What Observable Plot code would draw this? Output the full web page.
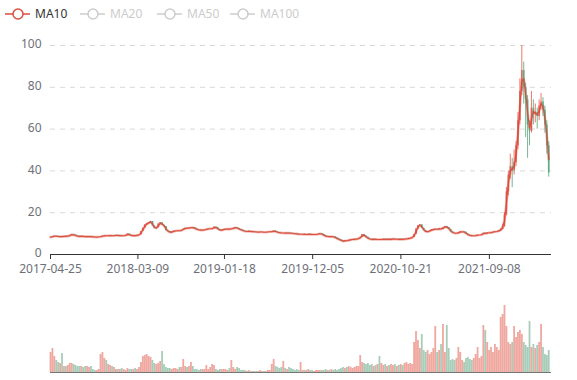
<!DOCTYPE html>
<html><head><meta charset="utf-8">
<script src="https://cdn.jsdelivr.net/npm/d3@7"></script>
<script src="https://cdn.jsdelivr.net/npm/@observablehq/plot@0.6"></script>
<style>
body{margin:0;background:#fff;font-family:"Noto Sans",sans-serif;}
#wrap{position:relative;width:577px;height:380px;overflow:hidden;}
#legend{position:absolute;left:0;top:0;width:577px;height:28px;}
.item{position:absolute;top:7px;height:14px;display:flex;align-items:center;font-size:12px;}
.item span{margin-left:5px;line-height:14px;}
#chart svg{display:block;}
</style></head><body>
<div id="wrap"><div id="chart"></div><div id="legend"></div></div>
<script>
const startDate = "2017-04-25";
const tickLabels = ["2017-04-25","2018-03-09","2019-01-18","2019-12-05","2020-10-21","2021-09-08"];
const seriesNames = ["MA10","MA20","MA50","MA100"];
const closes = [
8.3,8.6,8.8,8.7,8.5,8.6,8.5,8.7,8.6,8.8,
9.2,9.6,9.3,8.9,8.7,8.6,8.7,8.6,8.5,8.6,
8.6,8.5,8.4,8.3,8.3,8.4,8.6,8.8,9.0,8.9,
9.0,9.1,8.9,9.0,9.2,9.0,9.1,8.9,9.0,9.2,
9.8,9.2,9.0,9.1,9.0,9.2,9.4,11.0,12.6,14.2,
14.8,15.3,15.8,13.6,12.4,12.8,14.6,15.2,14.0,13.4,
11.4,11.0,10.4,10.9,11.2,11.3,11.4,11.3,11.6,12.2,
12.6,12.5,12.7,12.9,12.8,12.3,11.9,11.7,11.6,11.7,
11.8,12.1,12.3,12.3,12.4,13.1,12.7,12.0,11.4,11.8,
12.0,12.1,12.2,12.1,12.3,12.6,12.9,12.5,12.0,11.6,
11.3,11.0,11.0,11.1,10.9,11.0,10.8,10.7,10.7,10.8,
10.7,10.6,10.7,10.8,10.9,11.0,11.2,10.8,10.5,10.4,
10.3,10.3,10.2,10.3,10.2,10.1,10.0,9.9,9.8,9.7,
9.7,9.7,9.6,9.6,9.7,9.6,9.5,9.6,9.6,9.8,
10.0,9.6,9.0,8.6,8.6,8.5,8.6,8.4,7.9,7.4,
7.0,6.6,6.2,6.7,6.5,6.9,7.1,7.2,7.3,7.4,
7.7,8.2,9.6,8.8,8.2,7.5,7.3,7.2,7.3,7.2,
7.2,7.1,7.2,7.3,7.2,7.3,7.2,7.3,7.4,7.3,
7.3,7.2,7.3,7.2,7.4,7.5,7.7,7.9,8.2,9.6,
12.2,13.8,14.2,12.5,11.4,10.7,11.0,11.3,11.8,12.0,
12.1,12.0,12.3,12.2,12.8,13.4,12.9,12.0,10.8,10.3,
10.2,10.2,10.5,10.9,10.9,10.6,9.8,9.2,9.1,9.0,
9.0,9.1,9.3,9.3,9.6,10.2,10.0,10.4,10.4,10.5,
10.8,11.0,11.0,11.4,12.0,13.5,19.0,30.0,38.0,42.0,
40.0,44.0,52.0,64.0,78.0,88.0,80.0,74.0,62.0,59.0,
70.0,67.0,68.0,66.0,71.0,73.0,69.0,62.0,52.0,39.0];
const firstOpen = 8.2;
const wickStart = 234;
const wickHigh = [12.5,14.5,20,32,40,48,46,50,54,68,84,100,92,82,76,64,78,74,72,70,74,77,75,71,64,54];
const wickLow  = [11.2,11.8,13,18.5,28,36,32,38,42,50,62,76,72,56,46,52,58,62,63,60,64,69,66,58,48,37];
const volumes = [
20,24,16,12,10,9,19,6,6,7,
9,9,8,7,6,6,6,5,6,6,
5,6,3,2,2,3,18,20,14,12,
8,7,6,5,3,3,3,4,3,2,
4,3,3,3,4,3,5,10,16,17,
18,16,15,12,9,8,9,11,21,8,
5,4,4,3,4,4,3,5,5,13,
6,5,6,10,6,3,3,2,3,3,
3,7,3,5,8,7,3,2,3,3,
3,3,2,4,12,5,3,5,4,2,
2,2,1,2,1,1,1,1,1,2,
1,1,1,2,2,8,13,6,5,4,
5,11,4,3,5,4,3,2,3,2,
10,2,2,2,3,2,2,1,2,2,
2,2,2,3,2,2,3,2,3,2,
3,4,5,4,5,6,5,4,5,6,
6,17,10,9,8,9,7,8,6,7,
8,16,9,7,8,6,7,8,7,8,
6,7,8,7,9,10,8,9,8,30,
41,32,24,38,22,20,22,18,20,24,
46,20,22,28,48,20,47,24,12,13,
12,14,25,20,12,10,14,15,13,12,
14,18,25,14,16,47,42,30,22,25,
20,28,25,22,55,58,67,46,30,28,
30,46,35,40,42,38,30,27,25,51,
25,28,24,27,30,48,25,18,17,22];

const UP = "#e0503f", DOWN = "#4f9c74";
const t0 = new Date(startDate + "T00:00:00Z");
const data = closes.map((c, i) => {
  const open = i === 0 ? firstOpen : closes[i - 1];
  const w = i - wickStart;
  return {
    date: d3.utcDay.offset(t0, i * 7),
    open, close: c,
    high: w >= 0 ? wickHigh[w] : Math.max(open, c),
    low: w >= 0 ? wickLow[w] : Math.min(open, c),
    volume: volumes[i],
    up: c >= open,
    ma: i === 0 ? c : (closes[i - 1] + c) / 2
  };
});
const xDomain = [t0, new Date("2022-04-22T00:00:00Z")];
const ticks = tickLabels.map(s => new Date(s + "T00:00:00Z"));
const fmt = d3.utcFormat("%Y-%m-%d");

const price = Plot.plot({
  width: 577, height: 285,
  marginLeft: 50, marginRight: 26, marginTop: 45, marginBottom: 31,
  style: {fontFamily: "Noto Sans, sans-serif", fontSize: "12px", color: "#6e7079", background: "#fff"},
  x: {type: "utc", domain: xDomain},
  y: {domain: [0, 100]},
  marks: [
    Plot.gridY([20, 40, 60, 80, 100], {stroke: "#d9d9d9", strokeOpacity: 1, strokeDasharray: "5,5"}),
    Plot.axisY([0, 20, 40, 60, 80, 100], {tickSize: 0, tickPadding: 9, dy: -1, fill: "#6e7079", fontSize: 12}),
    Plot.axisX(ticks, {tickSize: 5, tickPadding: 5, tickFormat: fmt, stroke: "#333", fill: "#6e7079", fontSize: 12}),
    Plot.lineY(data, {x: "date", y: "ma", stroke: "#e8806f", strokeWidth: 2.6, strokeOpacity: 0.55}),
    Plot.ruleX(data, {x: "date", y1: "low", y2: "high", stroke: d => d.up ? UP : DOWN, strokeWidth: 0.9, strokeOpacity: 0.85}),
    Plot.ruleX(data, {x: "date", y1: "open", y2: "close", stroke: d => d.up ? UP : DOWN, strokeWidth: 1.8, strokeOpacity: 0.7}),
    Plot.lineY(data, {x: "date", y: "ma", stroke: "#d9473a", strokeWidth: 1.1, strokeOpacity: 0.9}),
    Plot.ruleY([0], {stroke: "#333", strokeWidth: 1})
  ]
});

const vol = Plot.plot({
  width: 577, height: 95,
  marginLeft: 50, marginRight: 26, marginTop: 17, marginBottom: 8,
  style: {background: "#fff"},
  x: {type: "utc", domain: xDomain, axis: null},
  y: {domain: [0, 70], axis: null},
  marks: [
    Plot.ruleX(data, {x: "date", y1: 0, y2: "volume", stroke: d => d.up ? UP : DOWN, strokeWidth: 1.8, strokeOpacity: 0.5}),
    Plot.ruleY([0], {stroke: "#777", strokeWidth: 1})
  ]
});

document.getElementById("chart").append(price, vol);

const legendPos = [[5, 35], [80, 111], [157, 187], [230, 261]];
const legend = document.getElementById("legend");
seriesNames.forEach((name, k) => {
  const active = k === 0;
  const col = active ? "#d94e3f" : "#cccccc";
  const div = document.createElement("div");
  div.className = "item";
  div.style.left = legendPos[k][0] + "px";
  div.innerHTML = `<svg width="25" height="14"><line x1="0" y1="7" x2="25" y2="7" stroke="${col}" stroke-width="1.5"/><circle cx="13" cy="7" r="5" fill="#fff" stroke="${col}" stroke-width="1.5"/></svg><span style="color:${active ? '#333' : '#ccc'}">${name}</span>`;
  legend.append(div);
});
</script>
</body></html>
